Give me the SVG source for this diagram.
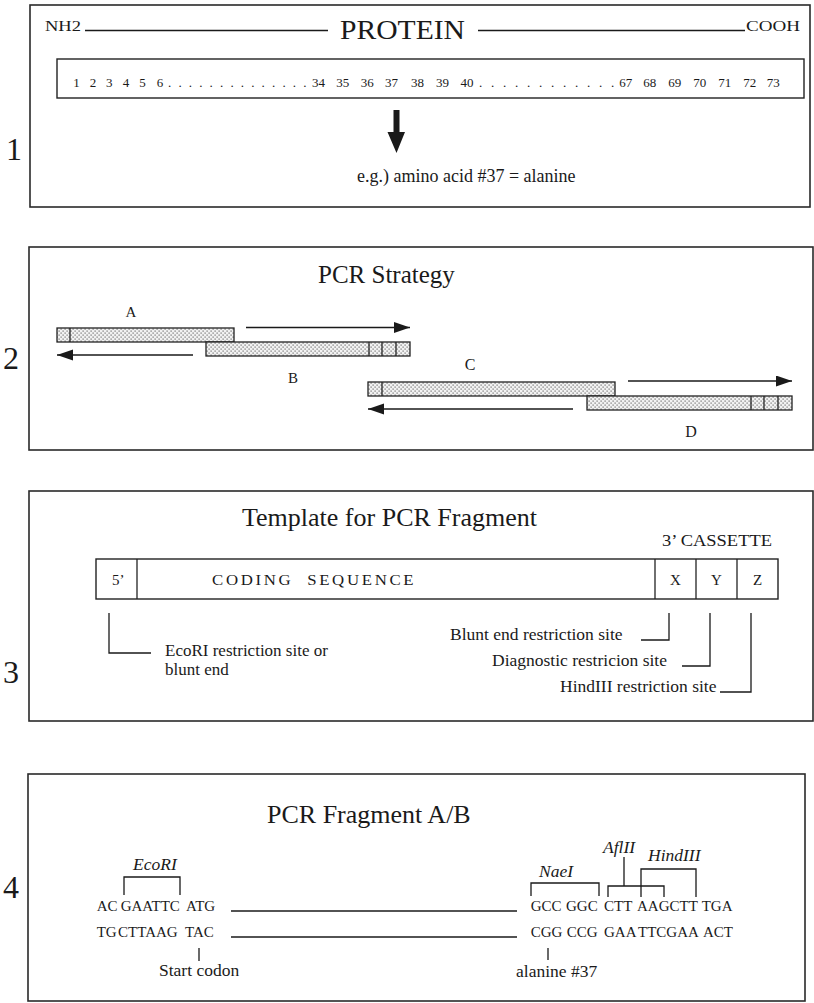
<svg xmlns="http://www.w3.org/2000/svg" width="814" height="1003" viewBox="0 0 814 1003">
<style>
text{font-family:"Liberation Serif","Times New Roman",serif;fill:#1a1a1a}
.frame{fill:none;stroke:#2a2a2a;stroke-width:1.6}
.box{fill:#fff;stroke:#222;stroke-width:1.4}
.ln{fill:none;stroke:#1a1a1a;stroke-width:1.3}
.bar{fill:url(#dots);stroke:#222;stroke-width:1.3}
.div{stroke:#222;stroke-width:1.3}
.num{font-size:32px}
.t13{font-size:13px}
.t15{font-size:15px}
.t17{font-size:17.5px}
.it{font-size:17.5px;font-style:italic}
.title{font-size:26px}
.mid{text-anchor:middle}
</style>
<defs>
<pattern id="dots" width="4" height="4" patternUnits="userSpaceOnUse">
<rect width="4" height="4" fill="#f2f2f2"/>
<rect x="0.5" y="0.5" width="1.2" height="1.2" fill="#6a6a6a"/>
<rect x="2.5" y="2.5" width="1.2" height="1.2" fill="#6a6a6a"/>
</pattern>
<marker id="ah" markerUnits="userSpaceOnUse" markerWidth="17" markerHeight="12" refX="16" refY="5.5" orient="auto">
<path d="M0,0 L16,5.5 L0,11 z" fill="#1a1a1a"/>
</marker>
</defs>

<!-- Panel 1 -->
<g id="panel1">
<rect class="frame" x="30" y="5" width="780" height="202"/>
<text class="num" x="6" y="160">1</text>
<text x="45" y="31" font-size="14" textLength="36" lengthAdjust="spacingAndGlyphs">NH2</text>
<text x="340" y="39" font-size="27" textLength="125" lengthAdjust="spacingAndGlyphs">PROTEIN</text>
<text x="746" y="31" font-size="14" textLength="54" lengthAdjust="spacingAndGlyphs">COOH</text>
<line class="ln" x1="85" y1="30.5" x2="328" y2="30.5"/>
<line class="ln" x1="478" y1="30.5" x2="745" y2="30.5"/>
</g>
<g id="sequence-box">
<rect class="box" x="57" y="59" width="747" height="39"/>
<text class="t13" y="87"><tspan x="73.3">1</tspan><tspan x="89.7">2</tspan><tspan x="106">3</tspan><tspan x="122.7">4</tspan><tspan x="139.3">5</tspan><tspan x="156.7">6</tspan></text>
<text class="t13" y="87" x="168 178.4 188.8 199.2 209.6 220 230.4 240.8 251.2 261.6 272 282.4 292.8 303.2">..............</text>
<text class="t13" y="87"><tspan x="312">34</tspan><tspan x="336.3">35</tspan><tspan x="360.7">36</tspan><tspan x="385">37</tspan><tspan x="411">38</tspan><tspan x="436">39</tspan><tspan x="460.5">40</tspan></text>
<text class="t13" y="87" x="479 491 503 515 527 539 551 563 575 587 599 611">............</text>
<text class="t13" y="87"><tspan x="619.3">67</tspan><tspan x="643.3">68</tspan><tspan x="668.3">69</tspan><tspan x="693.3">70</tspan><tspan x="718.3">71</tspan><tspan x="743.3">72</tspan><tspan x="766.7">73</tspan></text>
</g>
<g id="example">
<polygon points="393.5,110 399.5,110 399.5,132 405,132 396.5,153 387.5,132 393.5,132" fill="#1a1a1a"/>
<text x="357" y="181.5" font-size="18">e.g.) amino acid #37 = alanine</text>
</g>

<!-- Panel 2 -->
<g id="panel2">
<rect class="frame" x="29" y="247" width="784" height="203"/>
<text class="num" x="3" y="369">2</text>
<text x="318" y="283" font-size="25">PCR Strategy</text>
</g>
<g id="fragA">
<rect class="bar" x="57" y="328" width="177" height="14"/>
<line class="div" x1="70" y1="328" x2="70" y2="342"/>
<text class="mid" x="131" y="317" font-size="15">A</text>
</g>
<g id="fragB">
<rect class="bar" x="206" y="342" width="204" height="14"/>
<line class="div" x1="369" y1="342" x2="369" y2="356"/>
<line class="div" x1="382" y1="342" x2="382" y2="356"/>
<line class="div" x1="396" y1="342" x2="396" y2="356"/>
<text class="mid" x="293" y="383" font-size="15">B</text>
</g>
<g id="fragC">
<rect class="bar" x="368" y="382" width="247" height="14"/>
<line class="div" x1="382" y1="382" x2="382" y2="396"/>
<text class="mid" x="470" y="370" font-size="16">C</text>
</g>
<g id="fragD">
<rect class="bar" x="587" y="396" width="205" height="14"/>
<line class="div" x1="751" y1="396" x2="751" y2="410"/>
<line class="div" x1="764" y1="396" x2="764" y2="410"/>
<line class="div" x1="778" y1="396" x2="778" y2="410"/>
<text class="mid" x="691" y="437" font-size="16">D</text>
</g>

<!-- Panel 3 -->
<g id="panel3">
<rect class="frame" x="29" y="491" width="784" height="230"/>
<text class="num" x="3" y="683">3</text>
<text class="title" x="242" y="526">Template for PCR Fragment</text>
<text x="662" y="546" font-size="16.5" textLength="110" lengthAdjust="spacingAndGlyphs">3’ CASSETTE</text>
</g>
<g id="template">
<rect class="box" x="96" y="559" width="682" height="40"/>
<line class="div" x1="137" y1="559" x2="137" y2="599"/>
<line class="div" x1="655" y1="559" x2="655" y2="599"/>
<line class="div" x1="696" y1="559" x2="696" y2="599"/>
<line class="div" x1="737" y1="559" x2="737" y2="599"/>
<text class="t15" x="112" y="585">5’</text>
<text font-size="15" letter-spacing="2.4" transform="translate(212,585) scale(1.12,1)" xml:space="preserve">CODING  SEQUENCE</text>
<text class="t15 mid" x="675.5" y="585">X</text>
<text class="t15 mid" x="716.5" y="585">Y</text>
<text class="t15 mid" x="757.5" y="585">Z</text>
</g>
<g id="labels3">
<text x="165" y="656" font-size="17">EcoRI restriction site or</text>
<text x="165" y="675" font-size="17">blunt end</text>
<text class="t17" x="450" y="640">Blunt end restriction site</text>
<text class="t17" x="492" y="666">Diagnostic restricion site</text>
<text class="t17" x="560" y="692">HindIII restriction site</text>
</g>

<!-- Panel 4 -->
<g id="panel4">
<rect class="frame" x="28" y="774" width="777" height="227"/>
<text class="num" x="3" y="898">4</text>
<text class="title" x="267" y="823">PCR Fragment A/B</text>
</g>
<g id="seq-left">
<text class="t15" y="911"><tspan x="96.7">AC</tspan><tspan x="120.7">GAATTC</tspan><tspan x="186">ATG</tspan></text>
<text class="t15" y="937"><tspan x="96.7">TG</tspan><tspan x="118">CTTAAG</tspan><tspan x="185">TAC</tspan></text>
<text class="it" x="133" y="870">EcoRI</text>
<text class="t17" x="159" y="976">Start codon</text>
</g>
<g id="seq-right">
<text class="t15" y="911"><tspan x="530.7">GCC</tspan><tspan x="566">GGC</tspan><tspan x="604">CTT</tspan><tspan x="637">AAGCTT</tspan><tspan x="701.7">TGA</tspan></text>
<text class="t15" y="937"><tspan x="530.7">CGG</tspan><tspan x="566.7">CCG</tspan><tspan x="604">GAA</tspan><tspan x="638">TTCGAA</tspan><tspan x="703">ACT</tspan></text>
<text class="it" x="539" y="877">NaeI</text>
<text class="it" x="603" y="853">AflII</text>
<text class="it" x="648" y="861">HindIII</text>
<text class="t17" x="516" y="977">alanine #37</text>
</g>

<!-- Connectors -->
<g id="connectors">
<line class="ln" x1="246" y1="327.5" x2="410" y2="327.5" marker-end="url(#ah)"/>
<line class="ln" x1="193" y1="355" x2="57" y2="355" marker-end="url(#ah)"/>
<line class="ln" x1="628" y1="381" x2="792" y2="381" marker-end="url(#ah)"/>
<line class="ln" x1="573" y1="409" x2="368" y2="409" marker-end="url(#ah)"/>
<path class="ln" d="M109,613 V653 H151"/>
<path class="ln" d="M669,613 V640 H641"/>
<path class="ln" d="M710,613 V666 H682"/>
<path class="ln" d="M751,613 V692 H720"/>
<line class="ln" x1="231" y1="911" x2="517" y2="911"/>
<line class="ln" x1="231" y1="937" x2="517" y2="937"/>
<path class="ln" d="M124,895 V877 H180 V895"/>
<path class="ln" d="M531,896 V883 H599 V896"/>
<path class="ln" d="M624,857 V886"/>
<path class="ln" d="M608,897 V886 H664 V897"/>
<path class="ln" d="M641,897 V869 H696 V897"/>
<path class="ln" d="M199,948 V961"/>
<path class="ln" d="M548,948 V960"/>
</g>
</svg>
